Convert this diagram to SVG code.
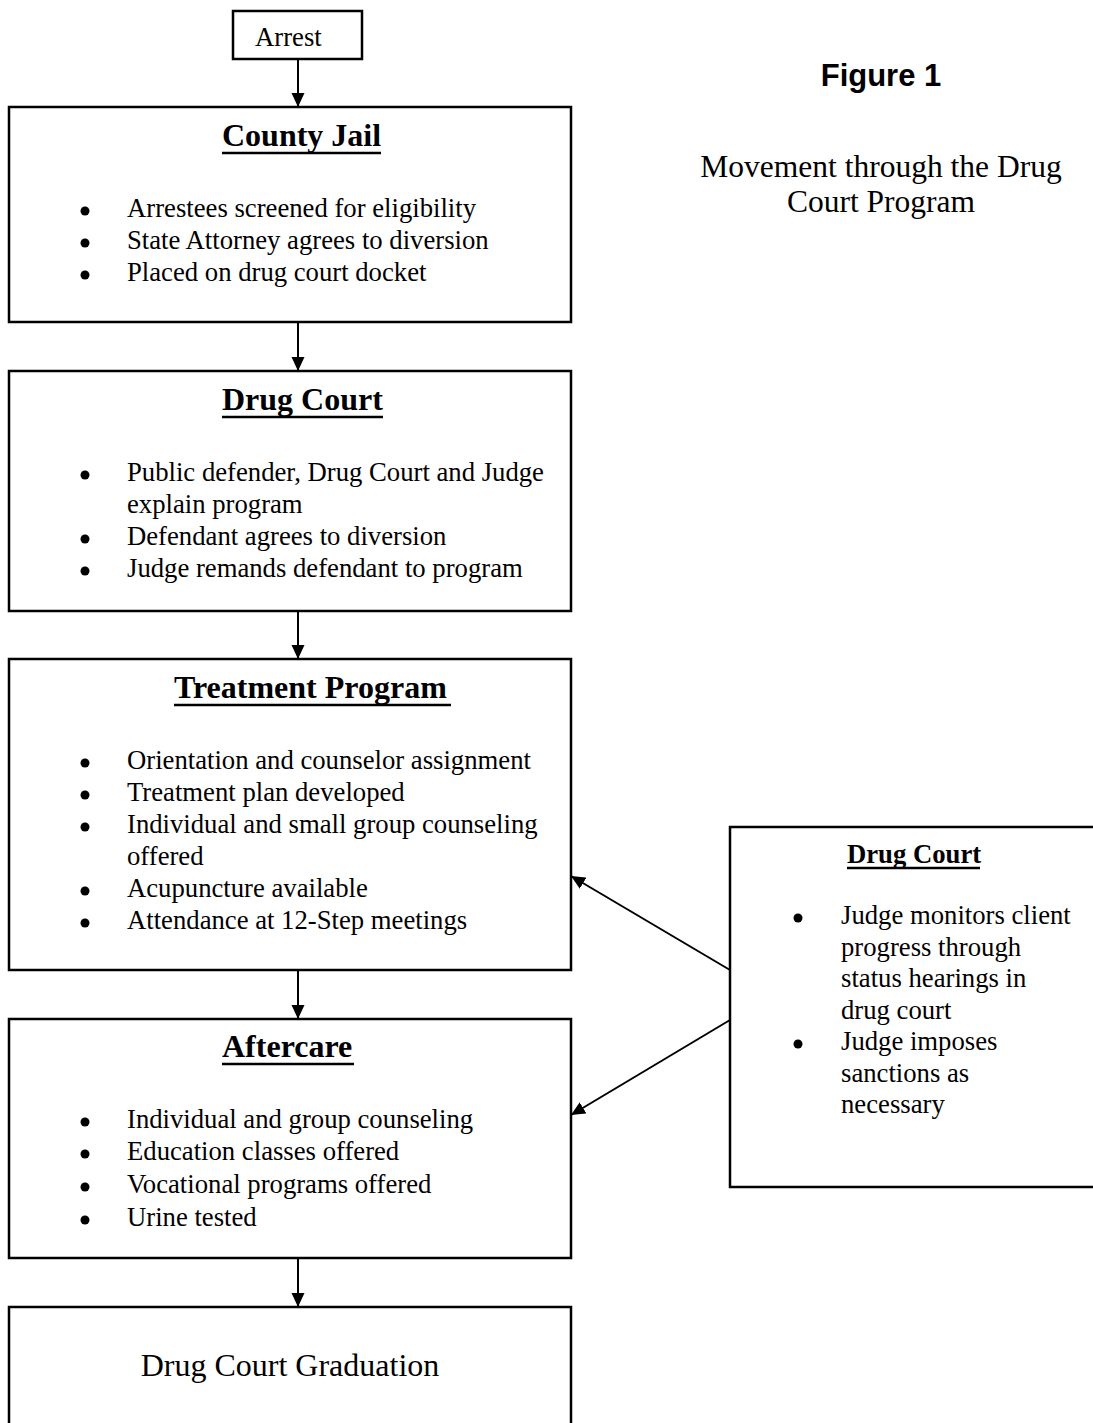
<svg xmlns="http://www.w3.org/2000/svg" width="1093" height="1423" viewBox="0 0 1093 1423">
<style>
.box{fill:#fff;stroke:#000;stroke-width:2.5}
.t{font-family:"Liberation Serif","Times New Roman",serif;font-size:26.7px;fill:#000}
.h{font-family:"Liberation Serif","Times New Roman",serif;font-size:32px;font-weight:bold;fill:#000}
.h2{font-family:"Liberation Serif","Times New Roman",serif;font-size:26.7px;font-weight:bold;fill:#000}
.ul{stroke:#000;stroke-width:2.5}
.c{stroke:#000;stroke-width:2;fill:none}
.b{fill:#000}
</style>
<defs>
<marker id="ah" markerWidth="14" markerHeight="14" viewBox="0 0 14 14" refX="14" refY="7" orient="auto" markerUnits="userSpaceOnUse">
<path d="M0,0.5 L14,7 L0,13.5 Z" fill="#000"/>
</marker>
</defs>
<rect width="1093" height="1423" fill="#fff"/>

<g id="title">
<text x="881" y="86" text-anchor="middle" style="font-family:'Liberation Sans',Arial,sans-serif;font-size:31px;font-weight:bold">Figure 1</text>
<text x="881" y="177" text-anchor="middle" class="t" style="font-size:31.5px">Movement through the Drug</text>
<text x="881" y="212" text-anchor="middle" class="t" style="font-size:31.5px">Court Program</text>
</g>

<g id="arrest">
<rect class="box" x="233" y="11" width="129" height="48"/>
<text class="t" x="255" y="46">Arrest</text>
</g>

<g id="county-jail">
<rect class="box" x="9" y="107" width="562" height="215"/>
<text class="h" x="222" y="146">County Jail</text>
<line class="ul" x1="222" y1="153" x2="381" y2="153"/>
<circle class="b" cx="85" cy="211" r="4.5"/><text class="t" x="127" y="217">Arrestees screened for eligibility</text>
<circle class="b" cx="85" cy="243" r="4.5"/><text class="t" x="127" y="249">State Attorney agrees to diversion</text>
<circle class="b" cx="85" cy="275" r="4.5"/><text class="t" x="127" y="281">Placed on drug court docket</text>
</g>

<g id="drug-court">
<rect class="box" x="9" y="371" width="562" height="240"/>
<text class="h" x="222" y="410">Drug Court</text>
<line class="ul" x1="222" y1="417" x2="383" y2="417"/>
<circle class="b" cx="85" cy="475" r="4.5"/><text class="t" x="127" y="481">Public defender, Drug Court and Judge</text>
<text class="t" x="127" y="513">explain program</text>
<circle class="b" cx="85" cy="539" r="4.5"/><text class="t" x="127" y="545">Defendant agrees to diversion</text>
<circle class="b" cx="85" cy="571" r="4.5"/><text class="t" x="127" y="577">Judge remands defendant to program</text>
</g>

<g id="treatment">
<rect class="box" x="9" y="659" width="562" height="311"/>
<text class="h" x="174" y="698">Treatment Program</text>
<line class="ul" x1="174" y1="705" x2="451" y2="705"/>
<circle class="b" cx="85" cy="763" r="4.5"/><text class="t" x="127" y="769">Orientation and counselor assignment</text>
<circle class="b" cx="85" cy="795" r="4.5"/><text class="t" x="127" y="801">Treatment plan developed</text>
<circle class="b" cx="85" cy="827" r="4.5"/><text class="t" x="127" y="833">Individual and small group counseling</text>
<text class="t" x="127" y="865">offered</text>
<circle class="b" cx="85" cy="891" r="4.5"/><text class="t" x="127" y="897">Acupuncture available</text>
<circle class="b" cx="85" cy="923" r="4.5"/><text class="t" x="127" y="929">Attendance at 12-Step meetings</text>
</g>

<g id="aftercare">
<rect class="box" x="9" y="1019" width="562" height="239"/>
<text class="h" x="222" y="1057">Aftercare</text>
<line class="ul" x1="222" y1="1064" x2="354" y2="1064"/>
<circle class="b" cx="85" cy="1122" r="4.5"/><text class="t" x="127" y="1128">Individual and group counseling</text>
<circle class="b" cx="85" cy="1154" r="4.5"/><text class="t" x="127" y="1160">Education classes offered</text>
<circle class="b" cx="85" cy="1187" r="4.5"/><text class="t" x="127" y="1193">Vocational programs offered</text>
<circle class="b" cx="85" cy="1220" r="4.5"/><text class="t" x="127" y="1226">Urine tested</text>
</g>

<g id="graduation">
<rect class="box" x="9" y="1307" width="562" height="140"/>
<text class="t" x="290" y="1376" text-anchor="middle" style="font-size:32px">Drug Court Graduation</text>
</g>

<g id="drug-court-monitor">
<rect class="box" x="730" y="827" width="380" height="360"/>
<text class="h2" x="847" y="863">Drug Court</text>
<line class="ul" x1="847" y1="868" x2="980" y2="868"/>
<circle class="b" cx="798" cy="918" r="4.5"/><text class="t" x="841" y="924">Judge monitors client</text>
<text class="t" x="841" y="955.5">progress through</text>
<text class="t" x="841" y="987">status hearings in</text>
<text class="t" x="841" y="1018.5">drug court</text>
<circle class="b" cx="798" cy="1044" r="4.5"/><text class="t" x="841" y="1050">Judge imposes</text>
<text class="t" x="841" y="1081.5">sanctions as</text>
<text class="t" x="841" y="1113">necessary</text>
</g>

<g id="connectors">
<line class="c" x1="298" y1="59" x2="298" y2="107" marker-end="url(#ah)"/>
<line class="c" x1="298" y1="322" x2="298" y2="371" marker-end="url(#ah)"/>
<line class="c" x1="298" y1="611" x2="298" y2="659" marker-end="url(#ah)"/>
<line class="c" x1="298" y1="970" x2="298" y2="1019" marker-end="url(#ah)"/>
<line class="c" x1="298" y1="1258" x2="298" y2="1307" marker-end="url(#ah)"/>
<line class="c" x1="730" y1="970" x2="571" y2="876" marker-end="url(#ah)"/>
<line class="c" x1="730" y1="1020" x2="571" y2="1115" marker-end="url(#ah)"/>
</g>
</svg>
